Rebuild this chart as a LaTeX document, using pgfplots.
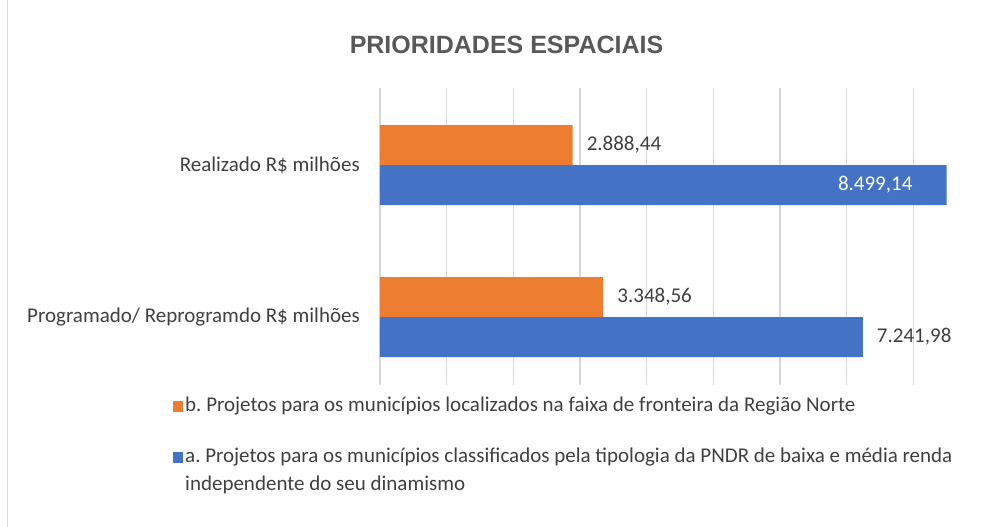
\documentclass[border=0pt]{standalone}
\usepackage{pgfplots}
\pgfplotsset{compat=1.18}
\usepackage{fontspec}
\setmainfont{Carlito}
\newfontfamily\titlefont{Liberation Sans}
\definecolor{cOrange}{HTML}{ED7D31}
\definecolor{cBlue}{HTML}{4472C4}
\definecolor{cGrid}{HTML}{D9D9D9}
\definecolor{cText}{HTML}{404040}
\definecolor{cTitle}{HTML}{595959}
\frenchspacing

\begin{document}
\begin{tikzpicture}
\useasboundingbox (0,0) rectangle (989pt,527pt);
\fill[white] (0,0) rectangle (989pt,527pt);
\draw[cGrid] (7pt,0) -- (7pt,527pt);
\node[font=\titlefont\bfseries\fontsize{25}{30}\selectfont, text=cTitle] at (506.5pt,482pt) {PRIORIDADES ESPACIAIS};
\begin{axis}[
  at={(380pt,142pt)}, anchor=south west,
  scale only axis, width=600pt, height=297pt,
  xbar, bar width=40pt,
  xmin=0, xmax=9000, ymin=-0.447, ymax=1.507,
  xtick={0,1000,...,8000}, xticklabels={},
  xmajorgrids, grid style={cGrid, line width=1.2pt},
  ytick={0,1},
  yticklabels={Programado/ Reprogramdo R\$ milhões, Realizado R\$ milhões},
  major tick length=0pt,
  axis line style={draw=none},
  yticklabel style={font=\fontsize{21}{25}\selectfont, text=cText, inner sep=0pt, xshift=-20pt},
  point meta=explicit symbolic,
  nodes near coords,
  nodes near coords style={font=\fontsize{21}{25}\selectfont, inner sep=0pt},
  legend style={at={(-0.35,-0.025)}, anchor=north west, draw=none, fill=none,
    font=\fontsize{21}{28}\selectfont, text=cText, row sep=31pt, cells={anchor=base west}},
  legend image code/.code={\fill[#1] (0pt,-1pt) rectangle (10pt,10pt);},
]
% b. faixa de fronteira
\addplot[fill=cOrange, draw=none, bar shift=20pt,
  nodes near coords style={anchor=west, xshift=14pt, text=cText}] coordinates {
  (3348.56,0) [3.348,56]
  (2888.44,1) [2.888,44]
};
\addlegendentry{b. Projetos para os municípios localizados na faixa de fronteira da Região Norte}
% a. tipologia PNDR
\addplot[fill=cBlue, draw=none, bar shift=-20pt,
  nodes near coords style={anchor=west, xshift=14pt, text=cText}] coordinates {
  (7241.98,0) [7.241,98]
  (8499.14,1) []
};
\addlegendentry{\parbox[t]{800pt}{a. Projetos para os municípios classificados pela tipologia da PNDR de baixa e média renda\\independente do seu dinamismo}}
% label inside the longest bar
\addplot[forget plot, fill=none, draw=none, bar shift=-20pt,
  nodes near coords style={anchor=east, xshift=-34pt, text=white}] coordinates {
  (8499.14,1) [8.499,14]
};
\end{axis}
\end{tikzpicture}
\end{document}
